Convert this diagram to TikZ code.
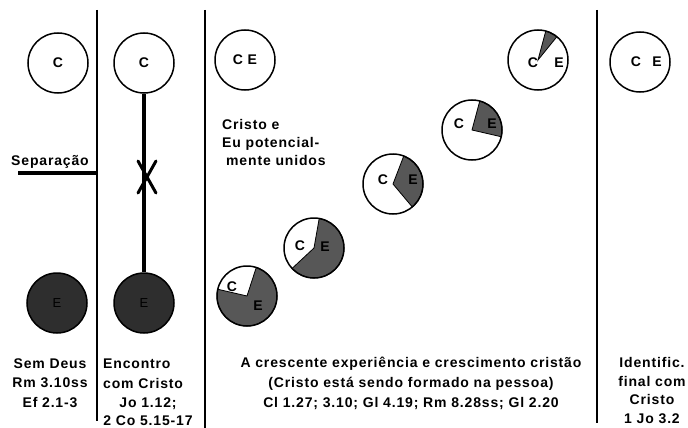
\documentclass[tikz,border=0pt]{standalone}
\usepackage{fontspec}
\setmainfont{Liberation Sans}[LetterSpace=6]
\usetikzlibrary{calc}

\definecolor{selfdark}{HTML}{2E2E2E}
\definecolor{selfgrow}{HTML}{575757}

\begin{document}
\begin{tikzpicture}[x=1pt,y=1pt,
	ring/.style={circle,draw,line width=1.5pt,minimum size=60pt,inner sep=0pt},
	lbl/.style={font=\fontsize{14}{16}\selectfont\bfseries,inner sep=0pt},
	txt/.style={font=\fontsize{14}{19.5}\selectfont\bfseries,inner sep=0pt},
	wedge/.style={fill=selfgrow,draw,line width=0.8pt},
	divider/.style={line width=2.2pt}]
	\useasboundingbox (0,-428) rectangle (688,0);

	\draw[divider] (97,-10) -- (97,-421);
	\draw[divider] (205,-10) -- (205,-428);
	\draw[divider] (597,-10) -- (597,-423);

	% sem Deus
	\node[ring,lbl] (c1) at (58,-63) {C};
	\node[ring,fill=selfdark,font=\fontsize{13}{15}\selectfont,text=black] (e1) at (57,-303) {E};
	\node[lbl,anchor=base] (separacao) at (50,-165) {Separação};
	\coordinate (sepL) at (18,-173);
	\coordinate (sepR) at (97,-173);
	\draw[line width=3.8pt] (sepL) -- (sepR);

	% encontro
	\node[ring,lbl] (c2) at (144,-63) {C};
	\node[ring,fill=selfdark,font=\fontsize{13}{15}\selectfont,text=black] (e2) at (144,-303) {E};
	\draw[line width=3.5pt] (c2) -- (e2);
	\coordinate (cruz) at (147,-177);
	\draw[line width=3pt,line cap=round] ($(cruz)+(-9,16)$) -- ($(cruz)+(9,-16)$);
	\draw[line width=3pt,line cap=round] ($(cruz)+(9,16)$) -- ($(cruz)+(-9,-16)$);

	% crescimento
	\node[ring,lbl] (ce) at (245,-60) {C E};
	\node[txt,align=left,anchor=north west,font=\fontsize{14}{18}\selectfont\bfseries] (unidos) at (222,-119) {Cristo e\\Eu potencial-\\\hspace*{4pt}mente unidos};

	\coordinate (p1) at (538,-60);
	\filldraw[wedge] (p1) -- ++(51:30) arc[start angle=51,end angle=75,radius=30] -- cycle;
	\node[ring] (pie1) at (p1) {};
	\node[lbl] (pc1) at (533,-63) {C};
	\node[lbl] (pe1) at (559,-63) {E};

	\coordinate (p2) at (472,-130);
	\filldraw[wedge] (p2) -- ++(-13:30) arc[start angle=-13,end angle=75,radius=30] -- cycle;
	\node[ring] (pie2) at (p2) {};
	\node[lbl] (pc2) at (459,-124) {C};
	\node[lbl] (pe2) at (492,-124) {E};

	\coordinate (p3) at (393,-184);
	\filldraw[wedge] (p3) -- ++(-50:30) arc[start angle=-50,end angle=69,radius=30] -- cycle;
	\node[ring] (pie3) at (p3) {};
	\node[lbl] (pc3) at (383,-180) {C};
	\node[lbl] (pe3) at (413,-180) {E};

	\coordinate (p4) at (314,-248);
	\filldraw[wedge] (p4) -- ++(-137:30) arc[start angle=-137,end angle=80,radius=30] -- cycle;
	\node[ring] (pie4) at (p4) {};
	\node[lbl] (pc4) at (300,-246) {C};
	\node[lbl] (pe4) at (325,-247) {E};

	\coordinate (p5) at (247,-296);
	\filldraw[wedge] (p5) -- ++(-193:30) arc[start angle=-193,end angle=72,radius=30] -- cycle;
	\node[ring] (pie5) at (p5) {};
	\node[lbl] (pc5) at (232,-287) {C};
	\node[lbl] (pe5) at (258,-306) {E};

	% identificação final
	\node[ring] (cefinal) at (640,-62) {};
	\node[lbl] (cf) at (636,-62) {C};
	\node[lbl] (ef) at (657,-62) {E};

	% textos
	\node[txt,align=center,anchor=north] (semdeus) at (50,-358.5) {Sem Deus\\Rm 3.10ss\\Ef 2.1-3};
	\node[txt,align=left,anchor=north west] (encontro) at (103,-359) {Encontro\\com Cristo};
	\node[txt,align=center,anchor=north,font=\fontsize{14}{17.5}\selectfont\bfseries] (refs) at (148,-398) {Jo 1.12;\\2 Co 5.15-17};
	\node[txt,align=center,anchor=north,font=\fontsize{14}{20}\selectfont\bfseries] (cresc) at (411,-357) {A crescente experiência e crescimento cristão\\(Cristo está sendo formado na pessoa)\\Cl 1.27; 3.10; Gl 4.19; Rm 8.28ss; Gl 2.20};
	\node[txt,align=center,anchor=north,font=\fontsize{14}{18.8}\selectfont\bfseries] (ident) at (652,-357) {Identific.\\final com\\Cristo\\1 Jo 3.2};

\end{tikzpicture}
\end{document}
